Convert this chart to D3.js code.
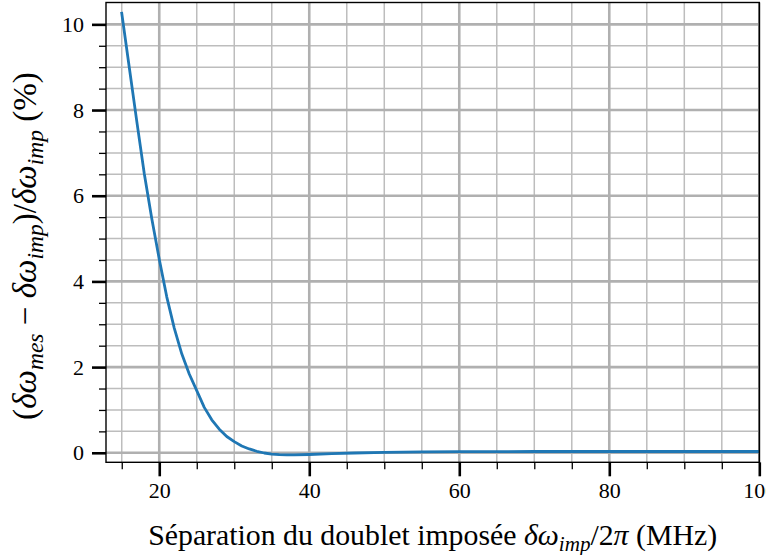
<!DOCTYPE html>
<html>
<head>
<meta charset="utf-8">
<script src="https://cdn.jsdelivr.net/npm/d3@7"></script>
<style>
  html, body { margin: 0; padding: 0; background: #fff; }
  svg { display: block; }
  text { font-family: "Liberation Serif", "DejaVu Serif", serif; fill: #000; }
</style>
</head>
<body>
<svg id="chart" width="766" height="555"></svg>
<script>
// ---- data ----
const sepMHz = [15, 16, 17, 18, 19, 20, 21, 22, 23, 24, 25, 26, 27, 28, 29, 30, 31, 32, 33, 34, 35, 36, 37, 38, 40, 43, 46, 50, 55, 60, 70, 80, 90, 100];
const relErr = [10.26, 9.0, 7.74, 6.52, 5.47, 4.52, 3.64, 2.91, 2.31, 1.84, 1.45, 1.06, 0.77, 0.55, 0.38, 0.26, 0.16, 0.09, 0.035, -0.005, -0.03, -0.045, -0.05, -0.048, -0.04, -0.02, -0.005, 0.01, 0.02, 0.025, 0.03, 0.03, 0.03, 0.03];
const xMajorTicks = [20, 40, 60, 80, 100];
const xMinorTicks = [15, 25, 30, 35, 45, 50, 55, 65, 70, 75, 85, 90, 95];
const yMajorTicks = [0, 2, 4, 6, 8, 10];
const yMinorTicks = [0.5, 1, 1.5, 2.5, 3, 3.5, 4.5, 5, 5.5, 6.5, 7, 7.5, 8.5, 9, 9.5];
const xDomain = [12.9, 100];
const yDomain = [-0.222, 10.51];

// ---- layout ----
const L = 106, R = 759.3, T = 2.5, B = 462.3;
const svg = d3.select("#chart");
const x = d3.scaleLinear().domain(xDomain).range([L, R]);
const y = d3.scaleLinear().domain(yDomain).range([B, T]);

svg.append("defs").append("clipPath").attr("id", "clip")
  .append("rect").attr("x", L).attr("y", T).attr("width", R - L).attr("height", B - T);

const grid = svg.append("g");
// minor grid
grid.selectAll("line.vmin").data(xMinorTicks).join("line")
  .attr("x1", d => x(d)).attr("x2", d => x(d)).attr("y1", T).attr("y2", B)
  .attr("stroke", "#bdbdbd").attr("stroke-width", 1.5);
grid.selectAll("line.hmin").data(yMinorTicks).join("line")
  .attr("class", "hmin")
  .attr("x1", L).attr("x2", R).attr("y1", d => y(d)).attr("y2", d => y(d))
  .attr("stroke", "#bdbdbd").attr("stroke-width", 1.5);
// major grid
grid.selectAll("line.vmaj").data(xMajorTicks).join("line")
  .attr("class", "vmaj")
  .attr("x1", d => x(d)).attr("x2", d => x(d)).attr("y1", T).attr("y2", B)
  .attr("stroke", "#b0b0b0").attr("stroke-width", 2.6);
grid.selectAll("line.hmaj").data(yMajorTicks).join("line")
  .attr("class", "hmaj")
  .attr("x1", L).attr("x2", R).attr("y1", d => y(d)).attr("y2", d => y(d))
  .attr("stroke", "#b0b0b0").attr("stroke-width", 2.6);

// curve
const line = d3.line().x((d, i) => x(sepMHz[i])).y(d => y(d));
svg.append("path").datum(relErr)
  .attr("clip-path", "url(#clip)")
  .attr("d", line)
  .attr("fill", "none").attr("stroke", "#1f77b4").attr("stroke-width", 2.8)
  .attr("stroke-linejoin", "round").attr("stroke-linecap", "square");

// axes
const xAxisMaj = d3.axisBottom(x).tickValues(xMajorTicks).tickSize(14).tickPadding(6).tickFormat(d3.format("d"));
const xAxisMin = d3.axisBottom(x).tickValues(xMinorTicks).tickSize(7).tickFormat("");
const yAxisMaj = d3.axisLeft(y).tickValues(yMajorTicks).tickSize(14).tickPadding(8).tickFormat(d3.format("d"));
const yAxisMin = d3.axisLeft(y).tickValues(yMinorTicks).tickSize(7).tickFormat("");

function styleAxis(g, w) {
  g.attr("font-family", null);
  g.select(".domain").remove();
  g.selectAll(".tick line").attr("stroke", "#000").attr("stroke-width", w);
  g.selectAll(".tick text").attr("font-size", 22).attr("fill", "#000");
}
svg.append("g").attr("transform", `translate(0,${B})`).call(xAxisMin).call(g => styleAxis(g, 1.3));
svg.append("g").attr("transform", `translate(0,${B})`).call(xAxisMaj).call(g => styleAxis(g, 2.6));
svg.append("g").attr("transform", `translate(${L},0)`).call(yAxisMin).call(g => styleAxis(g, 1.3));
svg.append("g").attr("transform", `translate(${L},0)`).call(yAxisMaj).call(g => styleAxis(g, 2.6));

// spines
svg.append("rect").attr("x", L).attr("y", T).attr("width", R - L).attr("height", B - T)
  .attr("fill", "none").attr("stroke", "#000").attr("stroke-width", 1.4);

// x label
const xl = svg.append("text").attr("x", (L + R) / 2).attr("y", 545)
  .attr("text-anchor", "middle").attr("font-size", 24);
xl.append("tspan").text("Séparation du doublet imposée ");
xl.append("tspan").attr("font-style", "italic").text("δω");
xl.append("tspan").attr("font-style", "italic").attr("font-size", 17).attr("dy", 5).text("imp");
xl.append("tspan").attr("dy", -5).text("/2");
xl.append("tspan").attr("font-style", "italic").text("π");
xl.append("tspan").text(" (MHz)");

// y label
const yl = svg.append("text").attr("transform", "translate(36,246) rotate(-90)")
  .attr("text-anchor", "middle").attr("font-size", 24);
yl.append("tspan").text("(");
yl.append("tspan").attr("font-style", "italic").text("δω");
yl.append("tspan").attr("font-style", "italic").attr("font-size", 17).attr("dy", 5).text("mes");
yl.append("tspan").attr("dy", -5).text(" − ");
yl.append("tspan").attr("font-style", "italic").text("δω");
yl.append("tspan").attr("font-style", "italic").attr("font-size", 17).attr("dy", 5).text("imp");
yl.append("tspan").attr("dy", -5).text(")/");
yl.append("tspan").attr("font-style", "italic").text("δω");
yl.append("tspan").attr("font-style", "italic").attr("font-size", 17).attr("dy", 5).text("imp");
yl.append("tspan").attr("dy", -5).text(" (%)");

// fit label widths to reference extents
function fitWidth(sel, target) {
  const w = sel.node().getComputedTextLength();
  if (w > 0) {
    const k = target / w;
    sel.attr("font-size", 24 * k);
    sel.selectAll("tspan").each(function() {
      const t = d3.select(this);
      const fs = t.attr("font-size");
      if (fs) t.attr("font-size", +fs * k);
      const dy = t.attr("dy");
      if (dy) t.attr("dy", +dy * k);
    });
  }
}
fitWidth(xl, 569);
fitWidth(yl, 348);
</script>
</body>
</html>
